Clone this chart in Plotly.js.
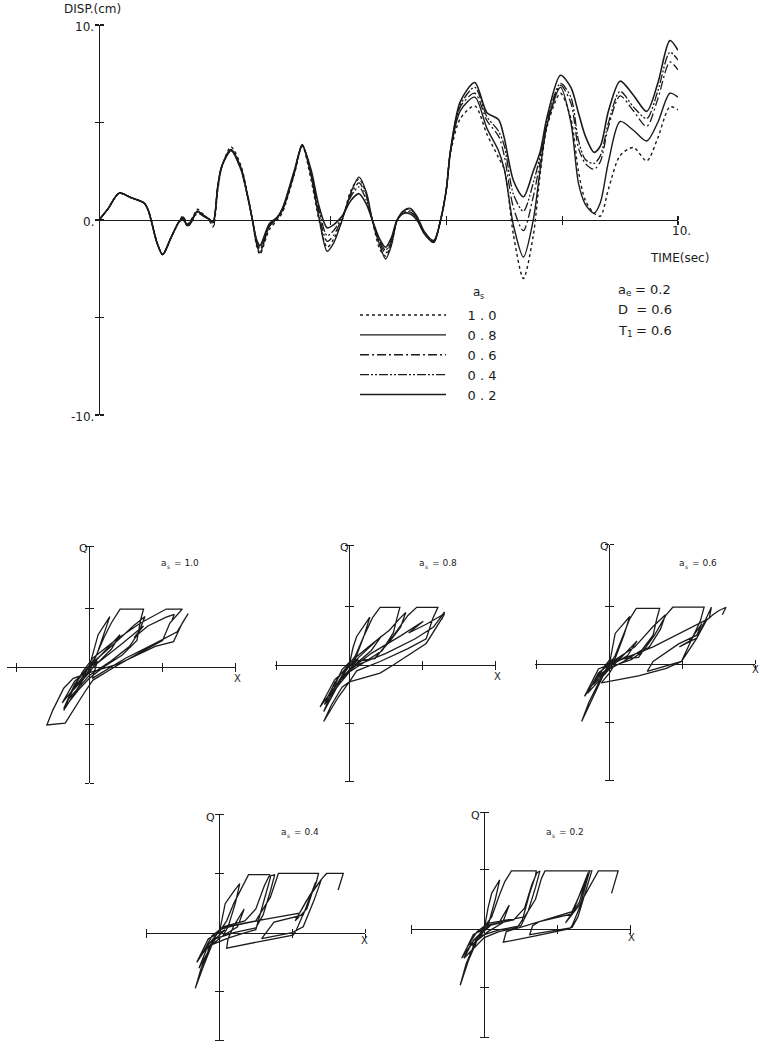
<!DOCTYPE html>
<html><head><meta charset="utf-8">
<script src="https://cdn.plot.ly/plotly-3.0.1.min.js"></script>
<style>html,body{margin:0;padding:0;background:#fff}#chart{width:760px;height:1050px}</style>
</head><body><div id="chart"></div>
<script>
// Time axis (sec) shared by all displacement histories
const time = [
  0, 0.15, 0.35, 0.55, 0.78,
  0.85, 0.9, 1.0, 1.1, 1.24,
  1.38, 1.45, 1.53, 1.62, 1.7,
  1.8, 1.9, 1.97, 2.05, 2.12,
  2.28, 2.45, 2.56, 2.65, 2.72,
  2.78, 2.94, 3.08, 3.17, 3.37,
  3.51, 3.66, 3.8, 3.94, 4.05,
  4.2, 4.35, 4.49, 4.62, 4.72,
  4.85, 4.95, 5.05, 5.15, 5.27,
  5.38, 5.5, 5.62, 5.78, 5.9,
  6.0, 6.07, 6.24, 6.49, 6.7,
  6.9, 7.0, 7.16, 7.33, 7.5,
  7.62, 7.74, 7.97, 8.15, 8.28,
  8.4, 8.55, 8.66, 8.8, 9.0,
  9.23, 9.46, 9.65, 9.86, 10.0
];

// Displacement (cm) for each a_s
const disp10 = [
  0, 0.55, 1.38, 1.15, 0.87,
  0.5, 0.0, -1.15, -1.77, -0.93,
  -0.1, 0.2, -0.2, 0.15, 0.55,
  0.3, 0.0, -0.35, 1.5, 2.7,
  3.75, 2.8, 1.4, 0.0, -1.3,
  -1.75, -0.5, 0.0, 0.4, 2.3,
  3.8, 2.1, 0.0, -1.4, -1.0,
  0.0, 1.5, 2.1, 1.3, 0.0,
  -1.5, -1.85, -1.2, 0.0, 0.5,
  0.55, 0.1, -0.7, -1.1, 0.0,
  1.6, 3.4, 5.2, 5.85, 4.4,
  3.2, 2.6, -0.8, -3.0, -0.8,
  2.37, 4.8, 6.5, 5.2, 2.5,
  1.0, 0.35, 0.2, 1.6, 3.3,
  3.72, 3.03, 4.2, 5.8, 5.65
];
const disp08 = [
  0, 0.55, 1.38, 1.15, 0.87,
  0.5, 0.0, -1.15, -1.77, -0.93,
  -0.1, 0.15, -0.3, 0.1, 0.45,
  0.25, 0.05, -0.15, 1.65, 2.75,
  3.62, 2.7, 1.35, 0.0, -1.2,
  -1.68, -0.34, 0.1, 0.5, 2.36,
  3.87, 2.3, 0.1, -1.6, -1.2,
  0.0, 1.4, 2.2, 1.4, 0.0,
  -1.3, -2.0, -1.3, 0.0, 0.5,
  0.6, 0.15, -0.6, -1.05, 0.0,
  1.6, 3.5, 5.6, 6.3, 4.7,
  3.55, 2.6, -0.3, -1.9, 0.0,
  2.6, 4.9, 6.8, 5.0, 1.9,
  0.8, 0.35, 0.9, 3.0, 5.05,
  4.6, 4.05, 5.0, 6.5, 6.3
];
const disp06 = [
  0, 0.55, 1.38, 1.15, 0.87,
  0.5, 0.0, -1.15, -1.77, -0.93,
  -0.1, 0.1, -0.35, 0.0, 0.35,
  0.2, 0.05, -0.1, 1.7, 2.75,
  3.6, 2.65, 1.3, 0.0, -1.1,
  -1.5, -0.3, 0.1, 0.55, 2.4,
  3.85, 2.4, 0.3, -1.1, -0.8,
  0.1, 1.3, 1.9, 1.2, 0.0,
  -1.2, -1.7, -1.1, 0.0, 0.45,
  0.5, 0.05, -0.65, -1.1, 0.0,
  1.6, 3.55, 5.8, 6.5, 5.1,
  4.3, 3.3, 0.6, -0.55, 1.2,
  3.0, 5.0, 6.9, 6.0, 3.7,
  2.9, 2.6, 3.0, 4.8, 6.36,
  5.6, 4.8, 6.2, 8.1, 7.7
];
const disp04 = [
  0, 0.55, 1.38, 1.15, 0.87,
  0.5, 0.0, -1.15, -1.77, -0.93,
  -0.1, 0.05, -0.3, 0.05, 0.4,
  0.2, 0.05, -0.1, 1.7, 2.75,
  3.55, 2.6, 1.3, 0.0, -1.0,
  -1.4, -0.25, 0.15, 0.6, 2.45,
  3.8, 2.5, 0.5, -0.8, -0.55,
  0.15, 1.2, 1.7, 1.0, 0.0,
  -1.1, -1.55, -1.0, 0.0, 0.4,
  0.4, 0.0, -0.7, -1.15, 0.0,
  1.6, 3.55, 5.9, 6.8, 5.3,
  4.56, 3.8, 1.3, 0.45, 1.9,
  3.3, 5.1, 7.0, 6.3, 4.1,
  3.1, 2.9, 3.3, 5.0, 6.6,
  5.8, 5.2, 6.6, 8.6, 8.2
];
const disp02 = [
  0, 0.55, 1.38, 1.15, 0.87,
  0.5, 0.0, -1.15, -1.77, -0.93,
  -0.1, 0.0, -0.25, 0.1, 0.45,
  0.25, 0.05, -0.1, 1.7, 2.75,
  3.55, 2.6, 1.3, 0.0, -1.0,
  -1.3, -0.2, 0.15, 0.6, 2.5,
  3.8, 2.6, 0.7, -0.4, -0.25,
  0.2, 1.0, 1.35, 0.8, 0.0,
  -1.0, -1.4, -0.9, 0.0, 0.35,
  0.3, -0.05, -0.7, -1.15, 0.0,
  1.6, 3.55, 6.07, 7.05, 5.5,
  5.15, 4.2, 2.0, 1.19, 2.5,
  3.5, 5.3, 7.42, 6.8, 5.5,
  4.3, 3.47, 3.8, 5.6, 7.12,
  6.4, 5.57, 7.0, 9.2, 8.7
];
const seriesNames = ['1 . 0', '0 . 8', '0 . 6', '0 . 4', '0 . 2'];

// Axis tick values and the labels written beside them
const timeTicks = [2, 4, 6, 8, 10];
const dispTicks = [-10, -5, 0, 5, 10];
const dispLabels = [[10, '10.'], [0, '0.'], [-10, '-10.']];
const timeLabel = [10, '10.'];

// Restoring force Q versus displacement x, as [x, Q] pairs in tick units (path in time order)
const loop10 = [
  [0,0],[0.06,0.3],[0.12,0.55],[0.28,0.86],
  [0.2,0.55],[0.1,0.2],[0,-0.05],[-0.15,-0.35],[-0.35,-0.75],
  [-0.25,-0.45],[-0.05,-0.1],[0.05,0.1],[0,0.02],[0.08,0.15],
  [0.2,0.5],[0.3,0.75],[0.42,0.99],[0.74,0.99],
  [0.7,0.8],[0.65,0.45],[0.45,0.2],[0.2,0],[0,-0.2],[-0.15,-0.4],[-0.35,-0.72],
  [-0.2,-0.3],[0,0.02],[0.3,0.35],[0.6,0.7],[0.76,0.86],
  [0.68,0.6],[0.55,0.35],[0.3,0.1],[0,-0.15],[-0.28,-0.55],
  [-0.15,-0.2],[0.1,0.12],[0.42,0.55],
  [0.3,0.3],[0.1,0.05],[-0.1,-0.2],[-0.37,-0.62],
  [-0.2,-0.25],[0.11,0.1],
  [0,-0.1],[-0.22,-0.4],
  [-0.1,-0.1],[0.05,0.15],[0.35,0.45],[0.7,0.75],[1.05,0.99],[1.27,0.99],
  [1.1,0.75],[1.0,0.45],[0.7,0.25],[0.35,0],[0.05,-0.23],[-0.06,-0.43],[-0.2,-0.7],[-0.33,-0.97],[-0.58,-1.0],
  [-0.5,-0.75],[-0.35,-0.37],[-0.22,-0.2],[0,-0.1],[0.4,0.05],[0.9,0.35],[1.15,0.43],[1.27,0.75],[1.35,0.91],
  [1.2,0.6],[0.9,0.4],[0.5,0.15],[0.04,-0.2],
  [0.1,0.05],[0.45,0.4],[0.74,0.7],
  [0.61,0.5],
  [0.8,0.7],[1.05,0.85],[1.16,0.9],[1.13,0.8]
];
const loop08 = [
  [0,0],[0.05,0.3],[0.1,0.49],[0.28,0.82],
  [0.2,0.5],[0.08,0.1],[-0.05,-0.1],[-0.2,-0.45],[-0.35,-0.8],
  [-0.25,-0.5],[-0.05,-0.08],[0.05,0.1],[0,0.02],[0.08,0.15],
  [0.2,0.5],[0.32,0.82],[0.42,0.99],[0.69,0.99],
  [0.65,0.8],[0.6,0.55],[0.45,0.25],[0.2,0.05],[0,-0.12],[-0.15,-0.35],[-0.34,-0.68],
  [-0.2,-0.3],[0.02,0.06],[0.3,0.35],[0.55,0.6],[0.69,0.8],[0.77,0.9],
  [0.7,0.65],[0.55,0.4],[0.35,0.12],[0.1,0],[-0.1,-0.2],[-0.32,-0.6],
  [-0.15,-0.2],[0.1,0.1],[0.44,0.5],
  [0.3,0.25],[0.1,0.03],[-0.15,-0.3],[-0.4,-0.72],
  [-0.2,-0.25],[0.12,0.1],
  [0,-0.08],[-0.21,-0.38],
  [-0.1,-0.08],[0.01,0.06],[0.35,0.11],[0.6,0.5],[0.8,0.85],[0.92,0.99],[1.21,0.99],
  [1.14,0.8],[1.05,0.45],[0.8,0.28],[0.42,0.06],[0.1,-0.1],[0,-0.29],[-0.15,-0.55],[-0.35,-0.97],
  [-0.25,-0.7],[-0.1,-0.38],[0,-0.29],[0.42,-0.14],[0.6,0],[1.05,0.37],[1.28,0.83],[1.3,0.91],
  [1.15,0.65],[0.9,0.45],[0.5,0.2],[0.07,-0.02],
  [0.3,0.2],[0.7,0.5],[1.01,0.75],
  [0.81,0.55],
  [1.05,0.7],[1.3,0.88],[1.26,0.78]
];
const loop06 = [
  [0,0],[0.04,0.3],[0.08,0.53],[0.28,0.82],
  [0.2,0.5],[0.08,0.1],[-0.05,-0.1],[-0.2,-0.5],[-0.38,-0.98],
  [-0.28,-0.65],[-0.1,-0.2],[0.02,0.05],[0,0],[0.08,0.15],
  [0.18,0.45],[0.28,0.78],[0.37,0.96],[0.69,0.96],
  [0.65,0.78],[0.6,0.5],[0.45,0.25],[0.2,0.05],[0,-0.08],[-0.3,-0.5],
  [-0.15,-0.15],[0.05,0.05],[0.35,0.3],[0.6,0.65],[0.77,0.85],
  [0.7,0.6],[0.55,0.3],[0.3,0.08],[0,-0.05],[-0.22,-0.35],
  [-0.05,0],[0.15,0.1],[0.38,0.4],
  [0.25,0.15],[0.05,0],[-0.15,-0.2],[-0.34,-0.55],
  [-0.15,-0.08],[0.1,0.05],
  [-0.05,-0.1],[-0.22,-0.3],
  [-0.05,0],[0,0.07],[0.4,0.12],[0.62,0.5],[0.78,0.85],[0.87,0.98],[1.3,0.98],
  [1.25,0.75],[1.1,0.35],[0.99,0.05],[0.9,0],[0.78,-0.07],[0.4,-0.2],[0,-0.3],[-0.11,-0.32],
  [0,-0.15],[0.1,0.05],[0.6,0.3],[1.0,0.55],[1.37,0.79],[1.4,0.98],
  [1.33,0.8],[1.2,0.45],[0.99,0.05],[0.52,-0.12],
  [0.6,0.05],[0.95,0.35],[1.2,0.5],[1.27,0.7],
  [1.1,0.4],[0.96,0.3],
  [1.2,0.45],[1.33,0.75],[1.42,0.85],[1.5,0.92],[1.6,0.98],[1.55,0.85]
];
const loop04 = [
  [0,0],[0.05,0.3],[0.08,0.49],[0.2,0.7],[0.28,0.83],
  [0.22,0.5],[0.12,0.1],[0.05,-0.05],[-0.1,-0.2],[-0.22,-0.57],[-0.33,-0.94],
  [-0.25,-0.6],[-0.1,-0.15],[0,0.05],[0.05,0.1],[-0.02,-0.02],[0.1,0.2],
  [0.2,0.5],[0.3,0.75],[0.4,0.98],[0.69,0.98],
  [0.7,0.93],[0.66,0.75],[0.58,0.4],[0.5,0.05],[0.3,-0.02],[0.1,-0.1],[-0.1,-0.2],[-0.28,-0.6],
  [-0.15,-0.2],[0.05,0.1],[0.35,0.2],[0.5,0.4],[0.62,0.8],[0.68,0.95],[0.76,0.98],
  [0.7,0.7],[0.6,0.3],[0.5,0.08],[0.2,0],[-0.05,-0.1],[-0.16,-0.3],
  [0,0.05],[0.2,0.12],[0.34,0.4],
  [0.25,0.1],[0.05,-0.05],[-0.2,-0.3],[-0.31,-0.5],
  [-0.15,-0.1],[0.08,0.05],
  [-0.05,-0.1],[-0.23,-0.35],
  [-0.1,-0.05],[0.05,0.09],[0.5,0.2],[0.7,0.6],[0.81,1.0],[1.36,1.0],
  [1.33,0.85],[1.2,0.45],[1.04,0],[1.01,-0.04],[0.55,-0.15],[0.1,-0.26],
  [0.12,-0.1],[0.2,0.12],[0.6,0.22],[1.1,0.33],[1.25,0.65],[1.4,0.9],
  [1.3,0.55],[1.15,0.1],[1.0,0],[0.58,-0.1],
  [0.75,0.18],[1.15,0.3],[1.32,0.85],
  [1.2,0.4],[1.04,0.2],
  [1.2,0.55],[1.4,0.9],[1.47,1.0],[1.7,1.0],[1.63,0.72]
];
const loop02 = [
  [0,0],[0.05,0.35],[0.1,0.6],[0.21,0.83],
  [0.15,0.5],[0.05,0.05],[-0.1,-0.2],[-0.22,-0.55],[-0.33,-0.96],
  [-0.25,-0.6],[-0.1,-0.15],[0,0.03],[0.05,0.1],[-0.02,0],[0.1,0.2],
  [0.2,0.55],[0.28,0.8],[0.37,0.98],[0.71,0.98],
  [0.7,0.9],[0.62,0.6],[0.52,0.15],[0.45,0.02],[0.2,-0.05],[0,-0.15],[-0.28,-0.5],
  [-0.15,-0.2],[0.05,0.05],[0.4,0.15],[0.55,0.35],[0.65,0.75],[0.72,0.95],[0.76,0.98],
  [0.7,0.7],[0.6,0.3],[0.5,0.05],[0.2,-0.02],[-0.05,-0.12],[-0.16,-0.3],
  [0,0.05],[0.2,0.1],[0.34,0.4],
  [0.25,0.1],[0.05,-0.05],[-0.2,-0.3],[-0.31,-0.5],
  [-0.15,-0.1],[0.08,0.05],
  [-0.05,-0.1],[-0.23,-0.3],
  [-0.1,-0.05],[0.05,0.09],[0.55,0.2],[0.7,0.5],[0.78,0.85],[0.83,0.98],[1.44,0.98],
  [1.4,0.8],[1.3,0.35],[1.2,0.05],[1.17,0],[0.7,-0.12],[0.26,-0.23],
  [0.3,-0.05],[1.2,0.29],[1.35,0.7],[1.44,0.98],[1.47,0.98],
  [1.4,0.7],[1.28,0.2],[1.2,0.02],[0.62,-0.1],
  [0.66,0.05],[0.75,0.12],[1.2,0.25],[1.35,0.75],[1.42,0.95],
  [1.3,0.45],[1.11,0.1],
  [1.3,0.4],[1.5,0.85],[1.56,0.98],[1.83,0.98],[1.74,0.6]
];
const loopLabels = ['1.0', '0.8', '0.6', '0.4', '0.2'];

// ---------- page geometry (pixels on the 760 x 1050 sheet) ----------
const W = 760, H = 1050;
const fx = v => v / W;
const fy = v => 1 - v / H;
const INK = '#1b1b1b';
const FONT = 'DejaVu Sans, Verdana, sans-serif';
const PAD = '\u00a0\u00a0\u00a0\u00a0';

const traces = [];
const layout = {
  width: W, height: H,
  margin: {l: 0, r: 0, t: 0, b: 0},
  paper_bgcolor: '#ffffff', plot_bgcolor: 'rgba(0,0,0,0)',
  showlegend: true,
  font: {family: FONT, color: INK},
  legend: {
    x: fx(355), y: fy(300), xanchor: 'left', yanchor: 'top',
    bgcolor: 'rgba(0,0,0,0)', borderwidth: 0,
    font: {family: FONT, size: 13, color: INK},
    itemwidth: 86, tracegroupgap: 0, traceorder: 'normal'
  },
  annotations: []
};

// Axis line through the origin; ticks cross the line (major ticks outside, minor ticks inside)
function crossAxis(extra, vals, len, width) {
  const span = extra.range[1] - extra.range[0];
  return Object.assign({
    showgrid: false, zeroline: false, showline: true, linecolor: INK, linewidth: width,
    ticks: 'outside', ticklen: len, tickwidth: width, tickcolor: INK, fixedrange: true,
    tickmode: 'array', tickvals: vals, showticklabels: false,
    minor: {
      tickmode: 'array', tickvals: vals.map(v => v + span * 1e-5),
      ticks: 'inside', ticklen: len, tickwidth: width, tickcolor: INK, showgrid: false
    }
  }, extra);
}
function note(text, x, y, size, xanchor, yshift) {
  layout.annotations.push({
    text: text, x: fx(x), y: fy(y), xref: 'paper', yref: 'paper',
    xanchor: xanchor || 'center', yanchor: 'middle', showarrow: false,
    yshift: yshift || 0, borderpad: 0, borderwidth: 0,
    font: {family: FONT, size: size, color: INK}
  });
}
// symbol with a lowered index letter, then the rest of the text
function subNote(base, sub, rest, x, y, size) {
  const small = Math.round(size * 0.7);
  note(base, x, y, size, 'right');
  note(sub, x - 0.5, y, small, 'left', -Math.round(size * 0.3));
  if (rest) note(rest, x + small * 0.65 + 3, y, size, 'left');
}
function noteAt(text, xref, yref, x, y, size, xanchor, xshift, yshift) {
  layout.annotations.push({
    text: text, x: x, y: y, xref: xref, yref: yref,
    xanchor: xanchor, yanchor: 'middle', showarrow: false,
    xshift: xshift || 0, yshift: yshift || 0, borderpad: 0, borderwidth: 0,
    font: {family: FONT, size: size, color: INK}
  });
}

// ---------- displacement time history ----------
const dashes = ['dot', 'solid', '9px,3px,2px,3px', '9px,2px,2px,2px,2px,2px', 'solid'];
const widths = [1.4, 1.4, 1.3, 1.3, 1.6];
[disp10, disp08, disp06, disp04, disp02].forEach((d, i) => {
  traces.push({
    type: 'scatter', mode: 'lines', x: time, y: d, name: PAD + seriesNames[i],
    xaxis: 'x', yaxis: 'y', hoverinfo: 'skip',
    line: {color: INK, width: widths[i], dash: dashes[i], shape: 'spline', smoothing: 0.8}
  });
});
layout.xaxis = crossAxis({
  domain: [fx(99), fx(678)], range: [0, 10], anchor: 'free', position: fy(220)
}, timeTicks, 4, 1.2);
layout.yaxis = crossAxis({
  domain: [fy(415), fy(25)], range: [-10, 10], anchor: 'free', position: fx(99)
}, dispTicks, 4, 1.2);

// tick labels beside the axes, placed in data coordinates
dispLabels.forEach(([v, s]) => noteAt(s, 'paper', 'y', fx(94), v, 12, 'right', 0, -2));
noteAt(timeLabel[1], 'x', 'paper', timeLabel[0], fy(231), 12, 'center', 3, 0);

note('DISP.(cm)', 64, 9, 12, 'left');
note('TIME(sec)', 650, 258, 12, 'left');
subNote('a', 's', '', 480, 292, 12);
subNote('a', 'e', '= 0.2', 626, 289, 13);
note('D  = 0.6', 618, 309, 13, 'left');
subNote('T', '1', '= 0.6', 627, 330, 13);

// ---------- Q-x hysteresis panels ----------
const frames = [
  {ox: 89.3,  oy: 666.7, xmin: -1.12, xmax: 2.0, qmin: -2.0,  qmax: 2.07, xu: 73.3, qu: 58.3, lab: [167, 563], q: [83, 548],  xl: [237, 678]},
  {ox: 349.3, oy: 665.0, xmin: -1.01, xmax: 2.0, qmin: -2.0,  qmax: 2.06, xu: 73.3, qu: 58.3, lab: [425, 563], q: [344, 547], xl: [497, 676]},
  {ox: 609.3, oy: 664.3, xmin: -1.02, xmax: 2.0, qmin: -2.0,  qmax: 2.05, xu: 73.0, qu: 58.3, lab: [685, 563], q: [604, 546], xl: [755, 669]},
  {ox: 219.3, oy: 932.7, xmin: -1.01, xmax: 2.0, qmin: -1.82, qmax: 2.0,  xu: 73.0, qu: 59.3, lab: [287, 832], q: [210, 817], xl: [364, 940]},
  {ox: 484.3, oy: 928.7, xmin: -1.0,  xmax: 2.0, qmin: -1.85, qmax: 1.97, xu: 73.2, qu: 59.0, lab: [552, 832], q: [475, 815], xl: [631, 937]}
];
const loops = [loop10, loop08, loop06, loop04, loop02];

frames.forEach((f, i) => {
  const n = 2 + i;
  layout['xaxis' + n] = crossAxis({
    domain: [fx(f.ox + f.xmin * f.xu), fx(f.ox + f.xmax * f.xu)], range: [f.xmin - 0.002, f.xmax + 0.002],
    anchor: 'free', position: fy(f.oy)
  }, [-1, 1, f.xmax], 4, 1);
  layout['yaxis' + n] = crossAxis({
    domain: [fy(f.oy - f.qmin * f.qu), fy(f.oy - f.qmax * f.qu)], range: [f.qmin - 0.002, f.qmax + 0.002],
    anchor: 'free', position: fx(f.ox)
  }, [f.qmin, -1, 1, f.qmax], 4, 1);
  traces.push({
    type: 'scatter', mode: 'lines', showlegend: false, hoverinfo: 'skip',
    x: loops[i].map(p => p[0]), y: loops[i].map(p => p[1]),
    xaxis: 'x' + n, yaxis: 'y' + n,
    line: {color: INK, width: 1.3}
  });
  subNote('a', 's', '= ' + loopLabels[i], f.lab[0], f.lab[1], 9);
  note('Q', f.q[0], f.q[1], 11);
  note('X', f.xl[0], f.xl[1], 10);
});

Plotly.newPlot('chart', traces, layout, {staticPlot: true, displayModeBar: false});
</script></body></html>
